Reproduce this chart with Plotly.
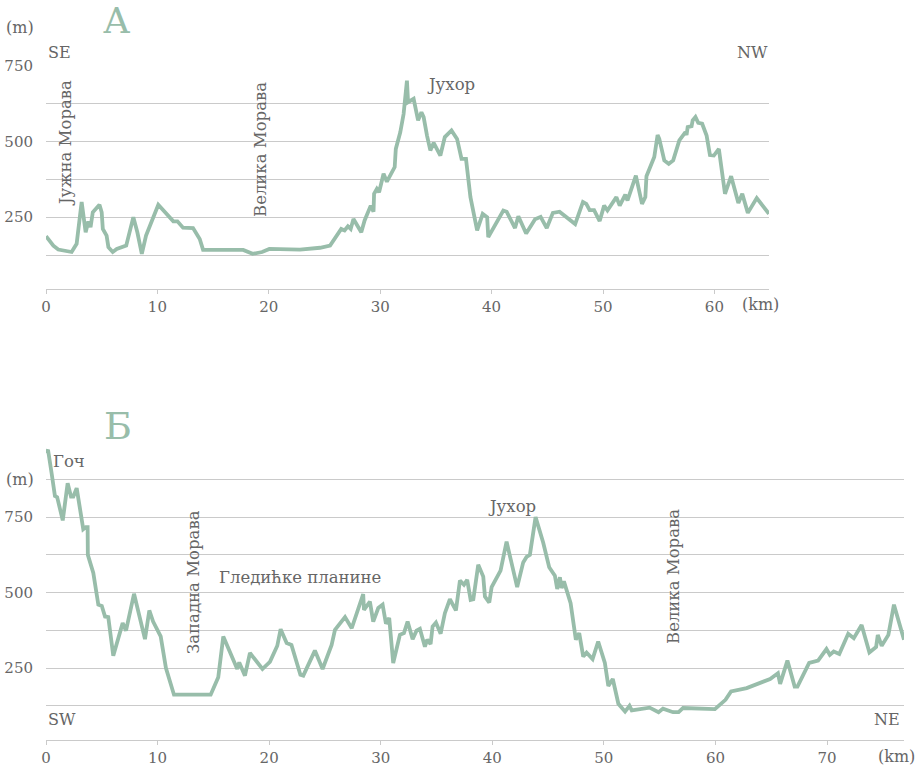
import plotly.graph_objects as go

# Profile А: SE -> NW, distance (km) and elevation (m)
km_a = [0, 0.66, 1.1, 2.3, 2.75, 3.2, 3.56, 3.8, 4.0, 4.2, 4.8, 5.0, 5.1, 5.44, 5.6, 5.99,
        6.35, 7.2, 7.84, 8.2, 8.6, 8.98, 10.08, 11.43, 11.8, 12.3, 13.2, 13.8, 14.1, 17.7,
        18.55, 19.4, 20.05, 22.5, 22.8, 24.6, 25.5, 26.5, 26.8, 27.1, 27.35, 27.6, 28.3,
        28.6, 29.15, 29.4, 29.45, 29.7, 29.9, 30.3, 30.6, 31.3, 31.4, 31.8, 32.1, 32.4,
        32.5, 33.0, 33.4, 33.7, 33.9, 34.2, 34.5, 34.8, 35.4, 35.8, 36.4, 36.9, 37.3, 37.7,
        38.1, 38.7, 39.2, 39.6, 39.7, 41.05, 41.35, 42.1, 42.4, 43.1, 43.9, 44.4, 44.95,
        45.5, 46.1, 47.5, 48.2, 48.5, 48.8, 49.2, 49.7, 50.1, 50.4, 51.2, 51.5, 52.0, 52.2,
        52.95, 53.5, 53.8, 53.9, 54.6, 54.9, 55.05, 55.5, 55.9, 56.3, 56.85, 57.4, 57.5,
        57.6, 57.95, 58.05, 58.3, 58.55, 58.9, 59.3, 59.6, 59.95, 60.4, 60.95, 61.5, 62.15,
        62.5, 63.0, 63.8, 64.9]
elev_a = [187, 156, 143, 135, 162, 300, 200, 236, 217, 266, 291, 266, 211, 189, 151, 135,
          145, 156, 250, 200, 129, 189, 291, 236, 236, 215, 214, 178, 142, 142,
          129, 135, 145, 145, 143, 149, 156, 211, 206, 220, 211, 244, 200,
          239, 288, 268, 327, 343, 332, 393, 367, 415, 475, 530, 590, 700,
          629, 640, 569, 596, 580, 519, 470, 495, 453, 514, 536, 508, 442, 442,
          316, 206, 261, 250, 184, 272, 268, 214, 253, 196, 243, 251, 214,
          264, 268, 227, 300, 294, 273, 273, 237, 288, 272, 316, 288, 324, 305,
          387, 294, 316, 385, 448, 521, 508, 437, 426, 437, 503, 530, 521,
          547, 550, 569, 580, 561, 558, 519, 455, 453, 475, 327, 385, 297,
          327, 264, 313, 261]

# Profile Б: SW -> NE
km_b = [0, 0.18, 0.5, 0.8, 1.0, 1.5, 1.94, 2.24, 2.45, 2.75, 3.34, 3.58, 3.73, 3.75, 4.24,
        4.69, 5.0, 5.29, 5.58, 6.03, 6.87, 7.17, 7.89, 8.42, 8.87, 9.26, 9.6, 10.28, 10.75,
        11.47, 14.76, 15.44, 15.89, 16.85, 17.14, 17.32, 17.83, 18.28, 19.4, 20.07, 20.73,
        21.03, 21.57, 22.0, 22.8, 23.06, 24.1, 24.79, 25.6, 25.9, 26.8, 27.4, 28.43, 28.5,
        29.03, 29.33, 29.78, 30.17, 30.47, 30.76, 31.12, 31.72, 32.08, 32.41, 32.86, 33.21,
        33.51, 33.96, 34.17, 34.47, 34.65, 34.95, 35.37, 35.75, 36.2, 36.74, 37.1, 37.46,
        37.75, 38.06, 38.3, 38.74, 39.19, 39.34, 39.73, 39.94, 40.74, 41.28, 42.23, 42.77,
        43.07, 43.37, 43.88, 44.56, 45.1, 45.61, 45.82, 46.06, 46.21, 46.42, 47.02, 47.49,
        47.79, 48.15, 48.45, 48.99, 49.49, 50.09, 50.4, 50.8, 51.0, 51.3, 51.9, 52.3, 52.5,
        53.2, 54.1, 54.9, 55.3, 56.2, 56.7, 57.1, 59.95, 60.9, 61.4, 62.8, 63.7, 64.9, 65.6,
        65.8, 66.45, 67.1, 67.35, 68.4, 69.2, 69.95, 70.25, 70.6, 71.1, 71.9, 72.4, 73.1,
        73.8, 74.4, 74.55, 74.9, 75.5, 76.0, 76.9]
elev_b = [962, 973, 896, 820, 816, 739, 862, 818, 818, 846, 710, 717, 717, 625, 565,
          460, 456, 421, 419, 291, 399, 374, 496, 410, 346, 441, 404, 355, 250,
          162, 162, 220, 355, 272, 247, 269, 225, 300, 247, 271, 324,
          379, 333, 327, 228, 225, 308, 247, 327, 377, 419, 382, 495, 443,
          470, 404, 449, 460, 397, 416, 267, 360, 366, 404, 346, 374,
          380, 321, 344, 330, 388, 401, 364, 432, 478, 441, 540, 526,
          542, 476, 478, 592, 553, 487, 467, 518, 573, 669, 518, 600,
          618, 625, 750, 666, 584, 556, 512, 551, 515, 537, 465, 344,
          366, 288, 301, 280, 338, 267, 191, 214, 184, 132, 106, 125, 110,
          115, 119, 104, 116, 104, 104, 118, 114, 145, 173, 184, 197, 214, 233,
          198, 275, 189, 189, 267, 275, 313, 294, 305, 297, 364, 349, 393,
          302, 320, 360, 324, 360, 460, 344]

grid_vals = [125, 250, 375, 500, 625, 750, 875]
grid_text = ["", "250", "", "500", "", "750", ""]
x_ticks = [0, 10, 20, 30, 40, 50, 60, 70]

LINE = "#98bdaa"
GRID = "#cacaca"
TEXT = "#666666"
FONT = "DejaVu Serif"
W, H = 924, 767


def px(x, y):
    return x / W, 1 - y / H


fig = go.Figure()
fig.add_trace(go.Scatter(x=km_a, y=elev_a, mode="lines", xaxis="x", yaxis="y",
                         line=dict(color=LINE, width=3.8), hoverinfo="skip"))
fig.add_trace(go.Scatter(x=km_b, y=elev_b, mode="lines", xaxis="x2", yaxis="y2",
                         line=dict(color=LINE, width=3.8), hoverinfo="skip"))

xa = dict(tickvals=x_ticks, showgrid=False, zeroline=False, showline=True,
          linecolor=GRID, linewidth=1, ticks="outside", ticklen=4, tickcolor=GRID,
          automargin=False, tickfont=dict(family=FONT, size=15, color=TEXT))
ya = dict(tickvals=grid_vals, ticktext=grid_text, showgrid=True, gridcolor=GRID,
          gridwidth=1, zeroline=False, showline=False, ticks="", automargin=False,
          ticklabelstandoff=12, tickfont=dict(family=FONT, size=15, color=TEXT))

fig.update_layout(
    template="none",
    width=W, height=H, margin=dict(l=0, r=0, t=0, b=0, pad=0),
    paper_bgcolor="white", plot_bgcolor="white", showlegend=False,
    xaxis=dict(xa, domain=[46 / W, 769 / W], range=[0, 64.9], anchor="y"),
    yaxis=dict(ya, domain=[1 - 289.3 / H, 1 - 64.9 / H], range=[12, 752], anchor="x"),
    xaxis2=dict(xa, domain=[46 / W, 904 / W], range=[0, 76.9], anchor="y2"),
    yaxis2=dict(ya, domain=[1 - 740 / H, 1 - 443.1 / H], range=[12, 995], anchor="x2"),
)

labels = [
    # (text, x px, y px, size, colour, angle)
    ("(m)", 20, 28, 16, TEXT, 0),
    ("SE", 59, 52, 16, TEXT, 0),
    ("NW", 752, 52, 16, TEXT, 0),
    ("(km)", 760, 304, 16, TEXT, 0),
    ("Јужна Морава", 66, 143, 16.5, TEXT, -90),
    ("Велика Морава", 261, 150, 16.5, TEXT, -90),
    ("Јухор", 451, 85, 16.5, TEXT, 0),
    ("Б", 118, 426, 38, LINE, 0),
    ("(m)", 20, 479, 16, TEXT, 0),
    ("Гоч", 69, 461, 16.5, TEXT, 0),
    ("Западна Морава", 193, 582, 16.5, TEXT, -90),
    ("Гледићке планине", 300, 577, 16.5, TEXT, 0),
    ("Јухор", 512, 506, 16.5, TEXT, 0),
    ("Велика Морава", 673, 577, 16.5, TEXT, -90),
    ("SW", 62, 719, 16, TEXT, 0),
    ("NE", 887, 719, 16, TEXT, 0),
    ("(km)", 896, 756, 16, TEXT, 0),
]
for text, x, y, size, color, angle in labels:
    ax, ay = px(x, y)
    fig.add_annotation(text=text, x=ax, y=ay, xref="paper", yref="paper",
                       showarrow=False, textangle=angle, xanchor="center",
                       yanchor="middle", font=dict(family=FONT, size=size, color=color))

# Heading of the first profile, pinned to the top edge so it stays inside the page
fig.add_annotation(text="А", x=117 / W, y=1, xref="paper", yref="paper",
                   showarrow=False, xanchor="center", yanchor="top", yshift=2,
                   font=dict(family=FONT, size=36, color=LINE))

fig.write_html("out.html")
